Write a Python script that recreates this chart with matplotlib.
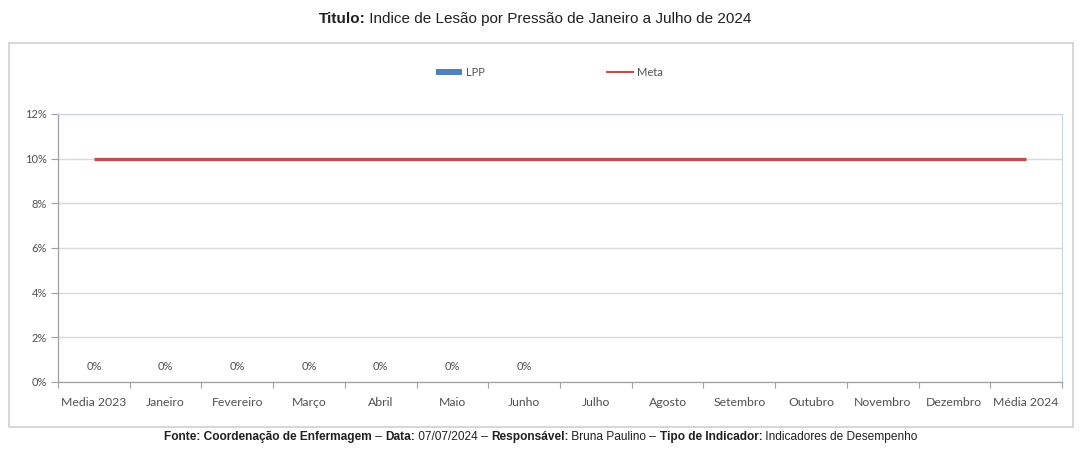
import matplotlib
matplotlib.use("Agg")
import matplotlib.pyplot as plt
from matplotlib.patches import Rectangle, Patch
from matplotlib.lines import Line2D
from matplotlib.ticker import FuncFormatter, FixedLocator

categories = ["Media 2023", "Janeiro", "Fevereiro", "Março", "Abril", "Maio", "Junho",
              "Julho", "Agosto", "Setembro", "Outubro", "Novembro", "Dezembro", "Média 2024"]
lpp = [0, 0, 0, 0, 0, 0, 0, None, None, None, None, None, None, None]
meta = [0.10] * 14
yticks = [0, 0.02, 0.04, 0.06, 0.08, 0.10, 0.12]

title_parts = [("Titulo:", "bold"), (" Indice de Lesão por Pressão de Janeiro a Julho de 2024", "normal")]
footer_parts = [("Fonte: Coordenação de Enfermagem", "bold"), (" – ", "normal"),
                ("Data:", "bold"), (" 07/07/2024", "normal"), (" – ", "normal"),
                ("Responsável:", "bold"), (" Bruna Paulino", "normal"), (" – ", "normal"),
                ("Tipo de Indicador:", "bold"), (" Indicadores de Desempenho", "normal")]

W, H = 1081, 457
fig = plt.figure(figsize=(W / 100, H / 100), dpi=100)
fig.patch.set_facecolor("white")

TITLE_FONT = ["Liberation Sans", "DejaVu Sans"]
AX_FONT = ["Lato", "DejaVu Sans"]
TXT = "#505050"

# chart box
fig.patches.append(Rectangle((9 / W, 1 - 427 / H), (1073 - 9) / W, (427 - 43) / H,
                             transform=fig.transFigure, facecolor="white",
                             edgecolor="#D0D0D0", linewidth=1.2, zorder=-5))

ax = fig.add_axes([58 / W, 1 - 382 / H, (1062 - 58) / W, (382 - 114) / H])
ax.set_zorder(1)
ax.patch.set_alpha(0)
x = list(range(len(categories)))

bar_vals = [v if v is not None else 0 for v in lpp]
ax.bar(x, bar_vals, width=0.6, color="#4F81BD", zorder=3)
ax.plot(x, meta, color="#C0504D", linewidth=2.4, zorder=4, solid_capstyle="butt")

for xi, v in zip(x, lpp):
    if v is not None:
        ax.text(xi, v + 0.0068, f"{v:.0%}", ha="center", va="center",
                fontsize=8, color=TXT, family=AX_FONT)

ax.set_xlim(-0.5, len(categories) - 0.5)
ax.set_ylim(0, 0.12)
ax.set_yticks(yticks)
ax.yaxis.set_major_formatter(FuncFormatter(lambda v, p: f"{v:.0%}"))
ax.grid(axis="y", color="#D9D9D9", linewidth=1.0, zorder=0)
ax.set_axisbelow(True)

ax.set_xticks(x)
ax.set_xticklabels(categories, fontsize=8.8, color=TXT, family=AX_FONT)
ax.xaxis.set_minor_locator(FixedLocator([i - 0.5 for i in range(len(categories) + 1)]))
ax.tick_params(axis="x", which="major", length=0, pad=11)
ax.tick_params(axis="x", which="minor", length=4, color="#A0A0A0", width=0.8)
ax.tick_params(axis="y", length=5, color="#A0A0A0", width=0.8, labelsize=8,
               labelcolor=TXT, pad=3)
for lab in ax.get_yticklabels():
    lab.set_family(AX_FONT)

for s in ["left", "bottom"]:
    ax.spines[s].set_color("#A0A0A0")
    ax.spines[s].set_linewidth(0.9)
ax.spines["right"].set_color("#C8D4E4")
ax.spines["top"].set_color("#C8D4E4")

handles = [Patch(facecolor="#4F81BD", edgecolor="none"),
           Line2D([0], [0], color="#C0504D", linewidth=1.5)]
leg = fig.legend(handles, ["LPP", "Meta"], loc="center", bbox_to_anchor=(549 / W, 1 - 72 / H),
                 ncol=2, frameon=False, columnspacing=11.0, handlelength=2.4,
                 handletextpad=0.3, handleheight=0.45, prop={"family": AX_FONT, "size": 8})
for t in leg.get_texts():
    t.set_color(TXT)


def mixed_text(parts, cx, cy, size, family, color="#202020"):
    r = fig.canvas.get_renderer()
    texts = []
    widths = []
    for s, w in parts:
        t = fig.text(0, cy, s, fontsize=size, fontweight=w, family=family,
                     color=color, ha="left", va="center")
        bb = t.get_window_extent(renderer=r)
        texts.append(t)
        widths.append(bb.width)
    total = sum(widths)
    xpix = cx * W - total / 2
    for t, w in zip(texts, widths):
        t.set_x(xpix / W)
        xpix += w


mixed_text(title_parts, 535 / W, 1 - 19 / H, 11, TITLE_FONT)
mixed_text(footer_parts, 541 / W, 1 - 437 / H, 8.6, TITLE_FONT)

fig.savefig("out.png", dpi=100, facecolor="white")
